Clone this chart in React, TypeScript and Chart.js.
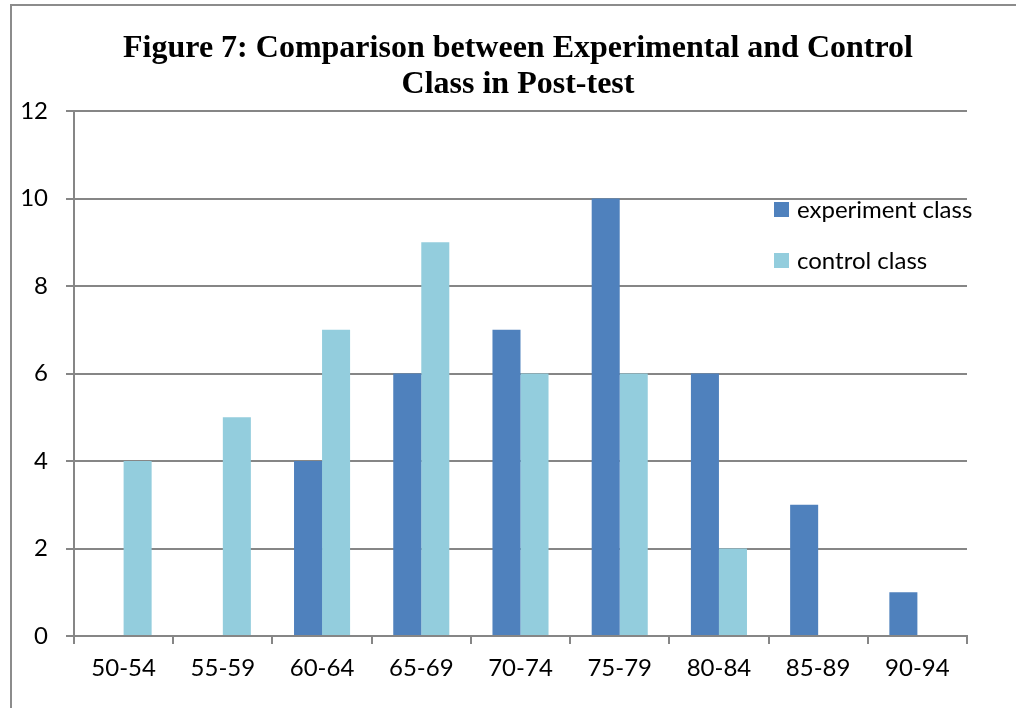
import React, { useEffect, useRef } from "react";
import { Chart, registerables } from "chart.js";

Chart.register(...registerables);

const categories = ["50-54", "55-59", "60-64", "65-69", "70-74", "75-79", "80-84", "85-89", "90-94"];
const experimentValues = [0, 0, 4, 6, 7, 10, 6, 3, 1];
const controlValues = [4, 5, 7, 9, 6, 6, 2, 0, 0];
const seriesNames = ["experiment class", "control class"];
const titleLines = ["Figure 7: Comparison between Experimental and Control", "Class in Post-test"];

const EXP_COLOR = "#4F81BD";
const CTRL_COLOR = "#93CDDD";
const GRID = "#868686";
const LABEL_FONT = "Lato, 'Liberation Sans', sans-serif";
const LABEL_SIZE = 24;

const framePlugin = {
  id: "frameTitleLegend",
  beforeDraw(chart: any) {
    const ctx = chart.ctx;
    ctx.save();
    ctx.fillStyle = "#ffffff";
    ctx.fillRect(0, 0, chart.width, chart.height);
    ctx.strokeStyle = "#8c8c8c";
    ctx.lineWidth = 2;
    ctx.beginPath();
    ctx.moveTo(11, chart.height);
    ctx.lineTo(11, 5);
    ctx.lineTo(chart.width, 5);
    ctx.stroke();
    ctx.restore();
  },
  afterDraw(chart: any) {
    const ctx = chart.ctx;
    ctx.save();
    // two-line title
    ctx.fillStyle = "#000";
    ctx.font = "bold 32px 'Liberation Serif', 'Times New Roman', serif";
    ctx.textAlign = "center";
    ctx.textBaseline = "alphabetic";
    ctx.fillText(titleLines[0], 518, 57);
    ctx.fillText(titleLines[1], 518, 93);
    // legend inside the plot, upper right
    ctx.textAlign = "left";
    ctx.font = `${LABEL_SIZE}px ${LABEL_FONT}`;
    chart.data.datasets.forEach((ds: any, i: number) => {
      const y = 202 + i * 51;
      ctx.fillStyle = ds.backgroundColor;
      ctx.fillRect(774, y, 15, 15);
      ctx.fillStyle = "#000";
      ctx.fillText(ds.label, 797, y + 16);
    });
    ctx.restore();
  },
};

export default function App() {
  const ref = useRef<HTMLCanvasElement | null>(null);

  useEffect(() => {
    document.body.style.margin = "0";
    const chart = new Chart(ref.current!, {
      type: "bar",
      data: {
        labels: categories,
        datasets: [
          { label: seriesNames[0], data: experimentValues, backgroundColor: EXP_COLOR },
          { label: seriesNames[1], data: controlValues, backgroundColor: CTRL_COLOR },
        ],
      },
      options: {
        responsive: false,
        animation: false,
        layout: { padding: { left: 14, top: 111, right: 49, bottom: 14 } },
        datasets: { bar: { categoryPercentage: 0.565, barPercentage: 1 } },
        plugins: {
          legend: { display: false },
          title: { display: false },
          tooltip: { enabled: false },
        },
        scales: {
          x: {
            grid: {
              offset: true,
              drawOnChartArea: false,
              color: GRID,
              tickLength: 8,
              lineWidth: 2,
            },
            border: { color: GRID, width: 2 },
            ticks: { color: "#000", font: { family: LABEL_FONT, size: LABEL_SIZE }, padding: 10, maxRotation: 0 },
            afterFit: (s: any) => {
              s.height = 708 - 636 - 14;
            },
          },
          y: {
            min: 0,
            max: 12,
            ticks: { stepSize: 2, color: "#000", font: { family: LABEL_FONT, size: LABEL_SIZE }, padding: 18 },
            grid: { color: GRID, tickLength: 8, lineWidth: 2 },
            border: { color: GRID, width: 2 },
            afterFit: (s: any) => {
              s.width = 74 - 14;
            },
          },
        },
      },
      plugins: [framePlugin],
    });
    return () => chart.destroy();
  }, []);

  return (
    <div style={{ width: 1016, height: 708 }}>
      <canvas ref={ref} width={1016} height={708} style={{ display: "block" }} />
    </div>
  );
}
